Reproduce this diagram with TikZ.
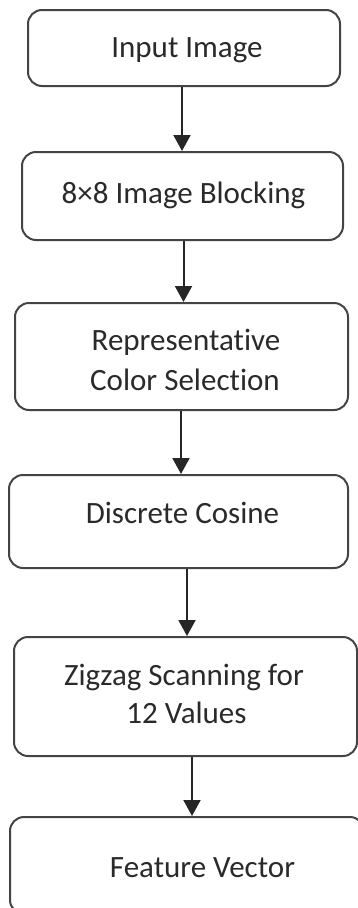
\documentclass[tikz,border=0pt]{standalone}
\usepackage{fontspec}
\setmainfont[RawFeature={-liga}]{Carlito}
\usetikzlibrary{arrows.meta}
\definecolor{boxline}{HTML}{444444}
\definecolor{txt}{HTML}{2A2A2A}
\tikzset{
  box/.style={draw=boxline, line width=2pt, rounded corners=14pt, fill=white},
  lbl/.style={anchor=base, inner sep=0pt, text=txt, font=\fontsize{31}{38}\selectfont},
  flow/.style={draw=black!85, line width=2pt, -{Triangle[width=17pt,length=16pt]}}
}
\begin{document}
\begin{tikzpicture}[x=1pt,y=-1pt]
\useasboundingbox (0,0) rectangle (358,908);
\clip (0,0) rectangle (358,908);
% boxes
\path[box] (28,10) rectangle (340,86) node[pos=0.5, inner sep=0pt, minimum width=312pt, minimum height=76pt] (b1) {};
\path[box] (22,152) rectangle (343,240) node[pos=0.5, inner sep=0pt, minimum width=321pt, minimum height=88pt] (b2) {};
\path[box] (15,303) rectangle (348,410) node[pos=0.5, inner sep=0pt, minimum width=333pt, minimum height=107pt] (b3) {};
\path[box] (9,475) rectangle (348,568) node[pos=0.5, inner sep=0pt, minimum width=339pt, minimum height=93pt] (b4) {};
\path[box] (14,637) rectangle (357,756) node[pos=0.5, inner sep=0pt, minimum width=343pt, minimum height=119pt] (b5) {};
\path[box] (10,817) rectangle (364,914) node[pos=0.5, inner sep=0pt, minimum width=354pt, minimum height=97pt] (b6) {};
% texts
\node[lbl] (t1) at (187,57) {Input Image};
\node[lbl] (t2) at (183.5,203) {8×8 Image Blocking};
\node[lbl] (t3a) at (186,350) {Representative};
\node[lbl] (t3b) at (185,390) {Color Selection};
\node[lbl] (t4) at (182.5,523) {Discrete Cosine};
\node[lbl] (t5a) at (184,685) {Zigzag Scanning for};
\node[lbl] (t5b) at (186.5,723) {12 Values};
\node[lbl] (t6) at (202.5,877) {Feature Vector};
% arrow columns
\coordinate (c1) at (182,0);
\coordinate (c2) at (183.5,0);
\coordinate (c3) at (181,0);
\coordinate (c4) at (187,0);
\coordinate (c5) at (192,0);
\draw[flow] (b1.south -| c1) -- (b2.north -| c1);
\draw[flow] (b2.south -| c2) -- (b3.north -| c2);
\draw[flow] (b3.south -| c3) -- (b4.north -| c3);
\draw[flow] (b4.south -| c4) -- (b5.north -| c4);
\draw[flow] (b5.south -| c5) -- (b6.north -| c5);
\end{tikzpicture}
\end{document}
